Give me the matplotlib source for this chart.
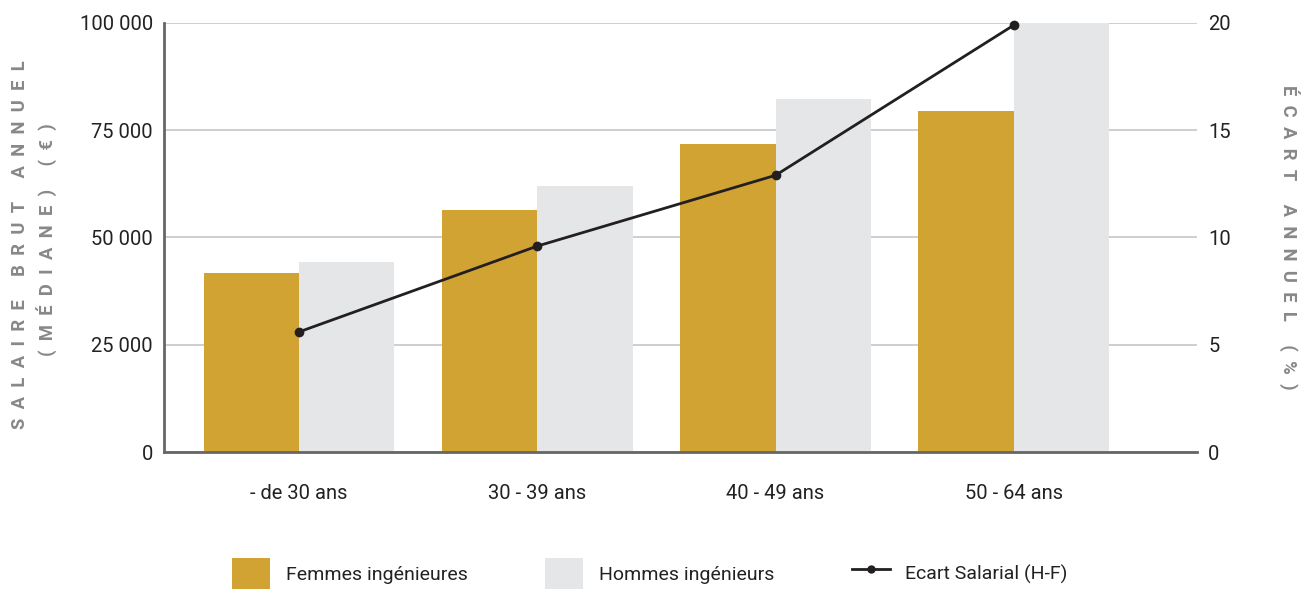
import matplotlib
matplotlib.use("Agg")
import matplotlib.pyplot as plt
import numpy as np
from matplotlib.patches import Patch
from matplotlib.lines import Line2D

plt.rcParams['font.family'] = ['Roboto', 'DejaVu Sans']

categories = ["- de 30 ans", "30 - 39 ans", "40 - 49 ans", "50 - 64 ans"]
femmes = [41700, 56300, 71800, 79600]
hommes = [44300, 61900, 82300, 100000]
ecart = [5.6, 9.6, 12.9, 19.9]
left_ticks = [0, 25000, 50000, 75000, 100000]
left_ticklabels = ["0", "25 000", "50 000", "75 000", "100 000"]
right_ticks = [0, 5, 10, 15, 20]

GOLD = "#D0A333"
LIGHT = "#E5E6E8"
LINE = "#231F20"
GRID = "#C6C6C6"
SPINE = "#666666"
LABEL = "#888888"
TEXT = "#222222"

fig = plt.figure(figsize=(13.01, 5.89), dpi=100)
ax = fig.add_axes([164/1301, 1-452/589, (1197-164)/1301, (452-23)/589])

x = np.arange(len(categories))
w = 0.4
ax.bar(x - w/2, femmes, width=w, color=GOLD, zorder=2)
ax.bar(x + w/2, hommes, width=w, color=LIGHT, zorder=2)

ax.set_xlim(-0.567, 3.769)
ax.set_ylim(0, 100000)
ax.set_yticks(left_ticks)
ax.set_yticklabels(left_ticklabels)
ax.set_xticks(x)
ax.set_xticklabels(categories)
ax.tick_params(axis='y', length=0, pad=8, labelsize=14.5, labelcolor=TEXT)
ax.tick_params(axis='x', length=0, pad=23, labelsize=14.5, labelcolor=TEXT)
ax.yaxis.grid(True, color=GRID, linewidth=1.2, zorder=0)
ax.set_axisbelow(True)
for s in ['top', 'right']:
    ax.spines[s].set_visible(False)
for s in ['left', 'bottom']:
    ax.spines[s].set_color(SPINE)
    ax.spines[s].set_linewidth(2)
    ax.spines[s].set_zorder(4)

ax2 = ax.twinx()
ax2.plot(x, ecart, color=LINE, linewidth=2, marker='o', markersize=6, zorder=5, clip_on=False)
ax2.set_ylim(0, 20)
ax2.set_yticks(right_ticks)
ax2.tick_params(axis='y', length=0, pad=8, labelsize=14.5, labelcolor=TEXT)
for s in ax2.spines.values():
    s.set_visible(False)


def spaced(s):
    # letter-spaced caps: en space between every character
    return "\u2002".join(s)

lab = dict(color=LABEL, fontweight='bold', fontsize=13.2, rotation=90,
           ha='center', va='center')
fig.text(20/1301, 1 - 245/589, spaced("SALAIRE BRUT ANNUEL"), **lab)
fig.text(47/1301, 1 - 240/589, spaced("(MÉDIANE) (€)"), **lab)
lab_r = dict(lab)
lab_r['rotation'] = -90
fig.text(1289/1301, 1 - 237/589, spaced("ÉCART ANNUEL (%)"), **lab_r)

handles = [Patch(facecolor=GOLD, edgecolor='none'),
           Patch(facecolor=LIGHT, edgecolor='none'),
           Line2D([0], [0], color=LINE, linewidth=2, marker='o', markersize=5)]
labels = ["Femmes ingénieures", "Hommes ingénieurs", "Ecart Salarial (H-F)"]
leg = fig.legend(handles, labels, loc='center', bbox_to_anchor=(650/1301, 1 - 574/589),
                 ncol=3, frameon=False, fontsize=14, handlelength=1.95, handleheight=2.2,
                 handletextpad=0.8, columnspacing=4.0, labelcolor=TEXT)

fig.savefig("out.png", dpi=100)
